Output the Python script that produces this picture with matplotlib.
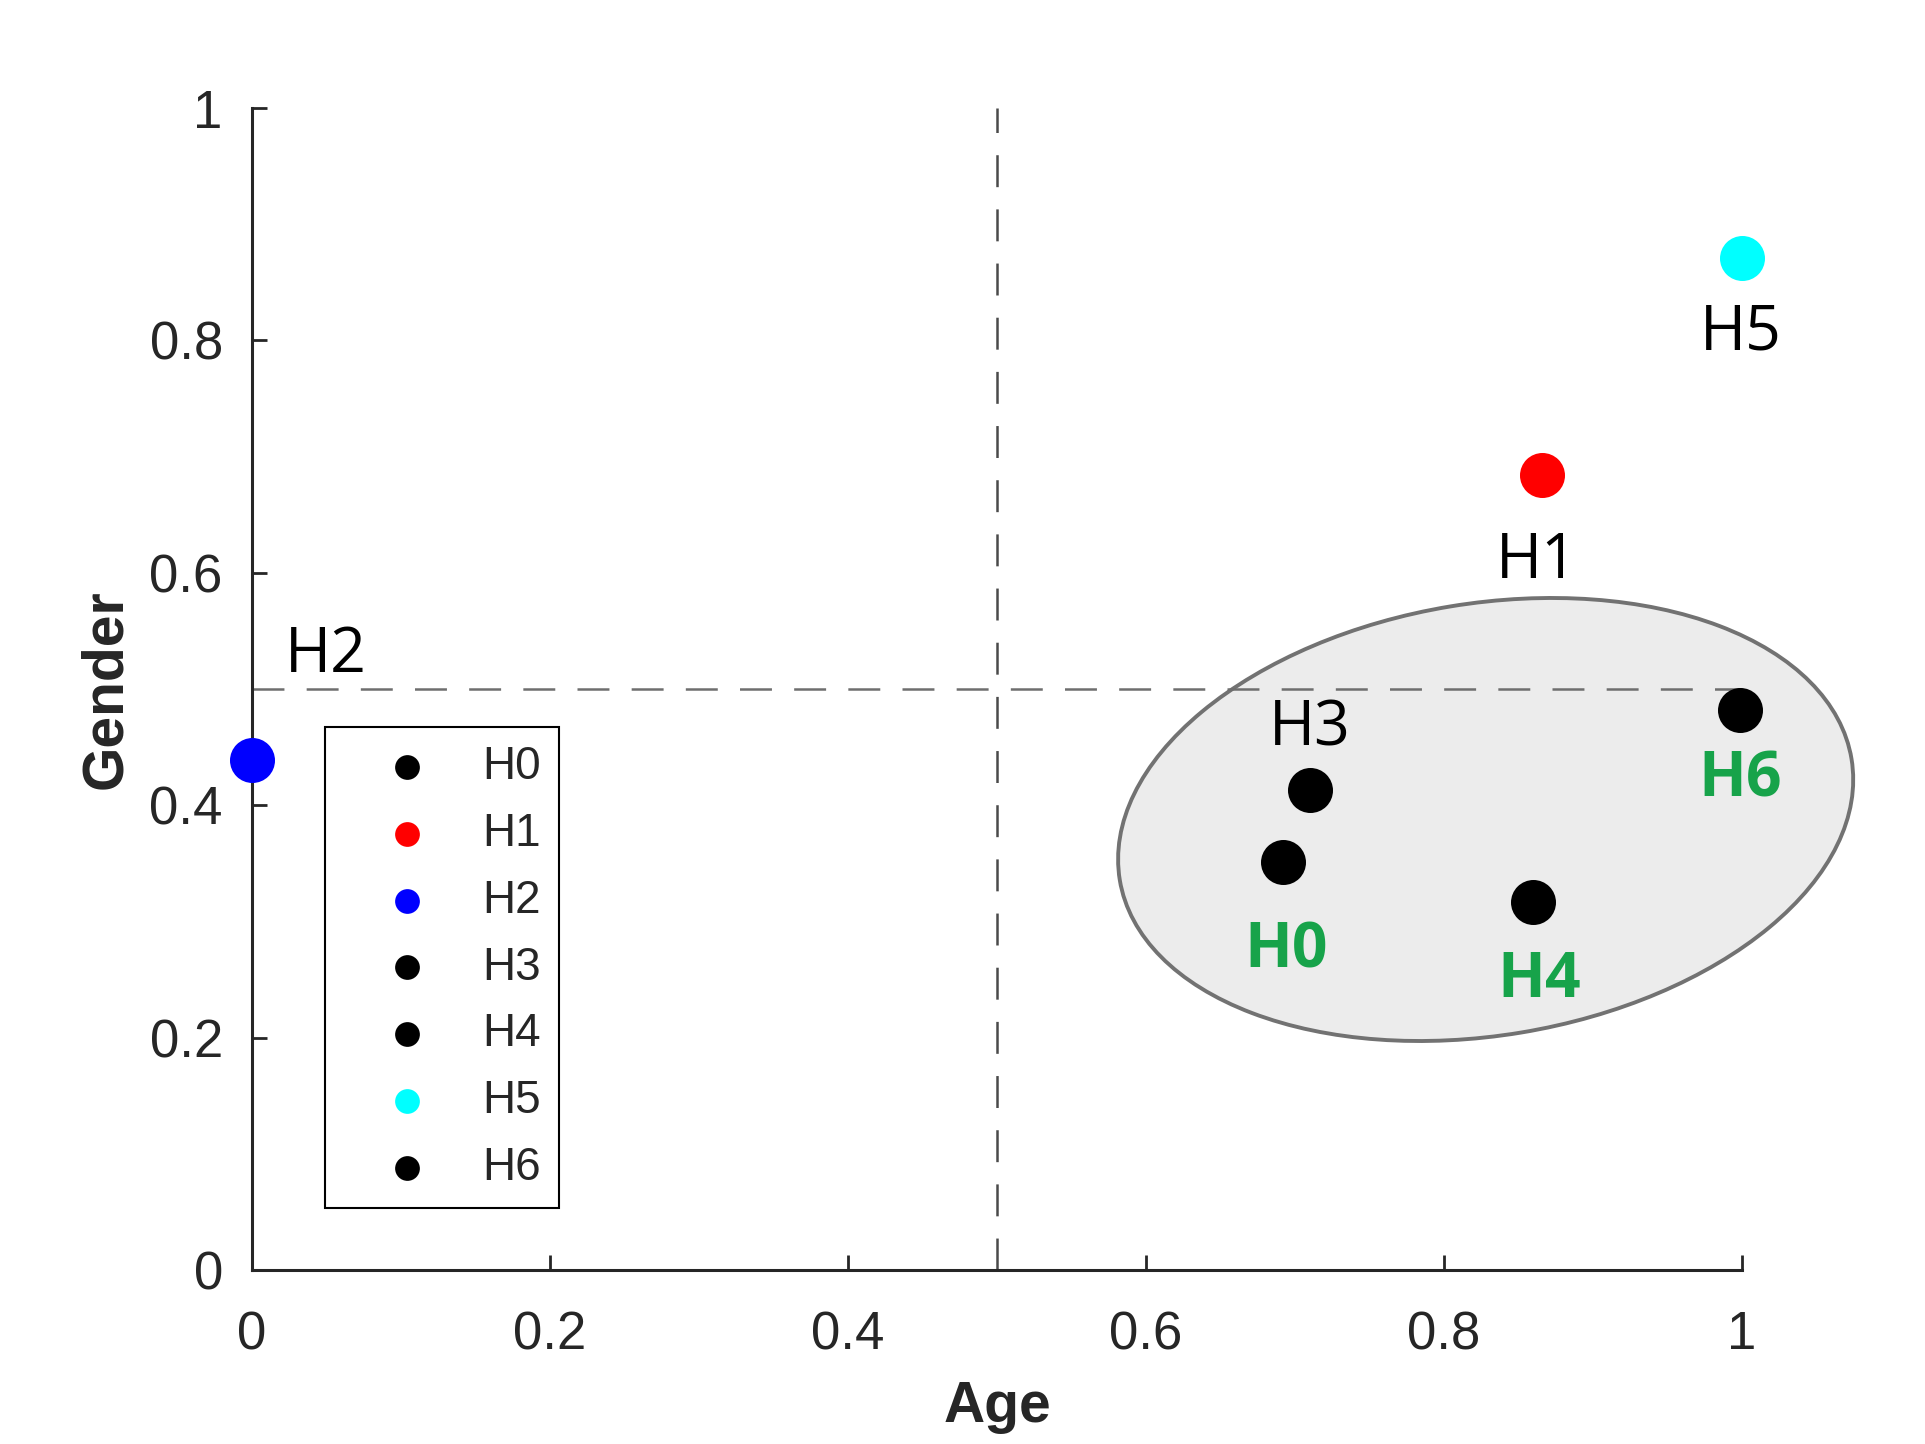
import matplotlib
matplotlib.use("Agg")
import matplotlib.pyplot as plt
from matplotlib.patches import Ellipse
from matplotlib.transforms import Affine2D, ScaledTranslation

# data
names = ["H0", "H1", "H2", "H3", "H4", "H5", "H6"]
age = [0.692, 0.866, 0.0, 0.710, 0.860, 1.0, 0.999]
gender = [0.351, 0.684, 0.439, 0.413, 0.317, 0.871, 0.482]
colors = ["black", "red", "blue", "black", "black", "cyan", "black"]
highlight = ["H0", "H4", "H6"]
ticks = [0, 0.2, 0.4, 0.6, 0.8, 1]
tick_labels = ["0", "0.2", "0.4", "0.6", "0.8", "1"]

# label offsets from each point, in points
label_offsets = {"H0": (2, -76), "H1": (-4, -74), "H2": (53, 63), "H3": (0, 32),
                 "H4": (4, -69), "H5": (-1, -66), "H6": (0, -62)}

plt.rcParams["font.family"] = ["Liberation Sans", "DejaVu Sans"]
plt.rcParams["lines.scale_dashes"] = False
dark = "#262626"

fig = plt.figure(figsize=(19.25, 14.44), dpi=100)
ax = fig.add_axes([0.1309, 0.1205, 0.774, 0.8047])

# grey cluster ellipse, sized in points so it stays tilted
trans = (Affine2D().scale(1 / 72) + fig.dpi_scale_trans
         + ScaledTranslation(0.828, 0.3877, ax.transData))
ell = Ellipse((0, 0), 534, 311, angle=9.4, transform=trans,
              facecolor="#ececec", edgecolor="#727272", lw=2.8,
              zorder=1, clip_on=False)
ax.add_patch(ell)

# threshold lines
ax.plot([0.5, 0.5], [0, 1], color="#4a4a4a", lw=1.8, dashes=(23, 16), zorder=2)
ax.plot([0, 1], [0.5, 0.5], color="#6e6e6e", lw=1.8, dashes=(23, 16), zorder=2)

for n, x, y, c in zip(names, age, gender, colors):
    ax.scatter(x, y, s=1050, color=c, label=n, zorder=3, clip_on=False, linewidths=0)
    dx, dy = label_offsets[n]
    if n in highlight:
        ax.annotate(n, (x, y), xytext=(dx, dy), textcoords="offset points",
                    ha="center", va="baseline", fontsize=45, fontweight="bold",
                    color="#17a34a", family=["Open Sans", "DejaVu Sans"],
                    annotation_clip=False, zorder=4)
    else:
        ax.annotate(n, (x, y), xytext=(dx, dy), textcoords="offset points",
                    ha="center", va="baseline", fontsize=45, color="black",
                    family=["Open Sans", "DejaVu Sans"],
                    annotation_clip=False, zorder=4)

ax.set_xlim(0, 1)
ax.set_ylim(0, 1)
ax.set_xticks(ticks)
ax.set_xticklabels(tick_labels)
ax.set_yticks(ticks)
ax.set_yticklabels(tick_labels)

for s in ["top", "right"]:
    ax.spines[s].set_visible(False)
for s in ["left", "bottom"]:
    ax.spines[s].set_linewidth(2.2)
    ax.spines[s].set_color(dark)

ax.tick_params(axis="both", direction="in", length=10.8, width=2.0,
               colors=dark, labelsize=38)
ax.tick_params(axis="x", pad=29)
ax.tick_params(axis="y", pad=21)

ax.set_xlabel("Age", fontsize=41, fontweight="bold", color=dark)
ax.set_ylabel("Gender", fontsize=41, fontweight="bold", color=dark)
ax.xaxis.set_label_coords(0.5, -0.095)
ax.yaxis.set_label_coords(-0.08, 0.5)

leg = ax.legend(loc="upper left", bbox_to_anchor=(0.049, 0.467), fontsize=33,
                markerscale=0.55, frameon=True, fancybox=False, framealpha=1,
                edgecolor="black", borderpad=0.38, labelspacing=0.5,
                handlelength=2.8, handletextpad=0.26, borderaxespad=0)
leg.get_frame().set_linewidth(1.5)
for t in leg.get_texts():
    t.set_color(dark)

fig.savefig("out.png", dpi=100)
